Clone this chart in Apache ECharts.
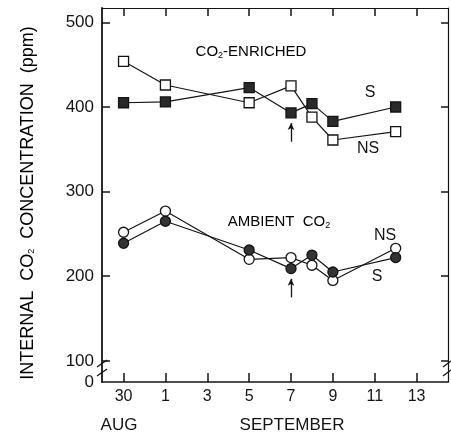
<!DOCTYPE html>
<html>
<head>
<meta charset="utf-8">
<script src="https://cdn.jsdelivr.net/npm/echarts@6/dist/echarts.min.js"></script>
<style>
html,body{margin:0;padding:0;background:#fff;}
#c{width:451px;height:436px;}
</style>
</head>
<body>
<div id="c"></div>
<script>
// ---- data ----
const dateLabels = ['Aug 30', 'Sep 1', 'Sep 5', 'Sep 7', 'Sep 8', 'Sep 9', 'Sep 12'];
const dayIndex = [0, 2, 6, 8, 9, 10, 13]; // days since Aug 30
const enrichedNS = [454, 426, 405, 425, 388, 361, 371];
const enrichedS = [405, 406, 423, 393, 404, 383, 400];
const ambientNS = [252, 277, 220, 222, 213, 195, 233];
const ambientS = [239, 265, 231, 209, 225, 205, 222];
const xTickValues = [0, 2, 4, 6, 8, 10, 12, 14];
const xTickLabels = ['30', '1', '3', '5', '7', '9', '11', '13'];
const yTickValues = [0, 100, 200, 300, 400, 500];
const arrowDay = 8;
const arrowEnriched = [359, 381];
const arrowAmbient = [175, 197];

// ---- chart ----
const FONT = '"Liberation Sans", Arial, sans-serif';
const INK = '#141414';
const yBottom = 75;   // broken axis: value shown as "0"
const yTop = 517;
const xMin = -1.03, xMax = 15.5;

const pairs = (ys) => dayIndex.map((d, i) => [d, ys[i]]);
const yLabelValues = yTickValues.map(v => v === 0 ? yBottom : v);
const yTickMarks = yTickValues.filter(v => v !== 0);

function lineSeries(name, ys, symbol, fill, size) {
  return {
    name, type: 'line', data: pairs(ys), symbol, symbolSize: size,
    showAllSymbol: true,
    lineStyle: { color: INK, width: 1.2 },
    itemStyle: { color: fill, borderColor: INK, borderWidth: 1.3 },
    z: 3, silent: true, animation: false
  };
}

function arrow(lo, hi) {
  return [{ coord: [arrowDay, lo] }, { coord: [arrowDay, hi] }];
}

const sub = { fontSize: 9, fontFamily: FONT, color: INK, padding: [7, 0, 0, 0] };

const chart = echarts.init(document.getElementById('c'), null, { renderer: 'canvas' });
chart.setOption({
  backgroundColor: '#fff',
  animation: false,
  grid: { left: 102, right: 3, top: 8, bottom: 54, containLabel: false },
  xAxis: [
    {
      type: 'value', min: xMin, max: xMax, position: 'bottom',
      axisLine: { show: true, onZero: false, lineStyle: { color: INK, width: 1.5 } },
      axisTick: { show: true, inside: true, length: 9, customValues: xTickValues, lineStyle: { color: INK, width: 1.5 } },
      axisLabel: {
        show: true, customValues: xTickValues, margin: 7,
        formatter: v => xTickLabels[xTickValues.indexOf(v)],
        fontFamily: FONT, fontSize: 16, color: INK
      },
      splitLine: { show: false }
    },
    {
      type: 'value', min: xMin, max: xMax, position: 'top',
      axisLine: { show: true, onZero: false, lineStyle: { color: INK, width: 1.2 } },
      axisTick: { show: true, inside: true, length: 8, customValues: xTickValues, lineStyle: { color: INK, width: 1.5 } },
      axisLabel: { show: false },
      splitLine: { show: false }
    }
  ],
  yAxis: [
    {
      type: 'value', min: yBottom, max: yTop, position: 'left',
      axisLine: { show: true, onZero: false, lineStyle: { color: INK, width: 1.8 } },
      axisTick: { show: true, inside: true, length: 8, customValues: yTickMarks, lineStyle: { color: INK, width: 1.5 } },
      axisLabel: {
        show: true, customValues: yLabelValues, margin: 8,
        formatter: v => v === yBottom ? '0' : String(v),
        fontFamily: FONT, fontSize: 17, color: INK
      },
      splitLine: { show: false }
    },
    {
      type: 'value', min: yBottom, max: yTop, position: 'right',
      axisLine: { show: true, onZero: false, lineStyle: { color: INK, width: 1.2 } },
      axisTick: { show: true, inside: true, length: 7, customValues: yTickMarks, lineStyle: { color: INK, width: 1.5 } },
      axisLabel: { show: false },
      splitLine: { show: false }
    }
  ],
  series: [
    Object.assign(lineSeries('Enriched NS', enrichedNS, 'rect', '#fff', 10), {
      markLine: {
        silent: true, symbol: ['none', 'arrow'], symbolSize: [5, 7],
        label: { show: false },
        lineStyle: { color: INK, width: 1.3, type: 'solid' },
        data: [arrow(arrowEnriched[0], arrowEnriched[1]), arrow(arrowAmbient[0], arrowAmbient[1])]
      }
    }),
    lineSeries('Enriched S', enrichedS, 'rect', '#2a2a2a', 10),
    lineSeries('Ambient NS', ambientNS, 'circle', '#fff', 10),
    lineSeries('Ambient S', ambientS, 'circle', '#333', 10)
  ],
  graphic: [
    {
      type: 'text', x: 28, y: 203, rotation: Math.PI / 2,
      style: {
        text: '{a|INTERNAL  CO}{s|2}{a|  CONCENTRATION  (ppm)}',
        align: 'center', verticalAlign: 'middle',
        rich: { a: { fontSize: 18, fontFamily: FONT, color: INK }, s: sub }
      }
    },
    {
      type: 'text', x: 251, y: 52,
      style: {
        text: '{a|CO}{s|2}{a|-ENRICHED}', align: 'center', verticalAlign: 'middle',
        rich: { a: { fontSize: 15, fontFamily: FONT, color: INK }, s: sub }
      }
    },
    {
      type: 'text', x: 279, y: 222,
      style: {
        text: '{a|AMBIENT  CO}{s|2}', align: 'center', verticalAlign: 'middle',
        rich: { a: { fontSize: 15, fontFamily: FONT, color: INK }, s: sub }
      }
    },
    { type: 'text', x: 370, y: 93, style: { text: 'S', align: 'center', verticalAlign: 'middle', fontSize: 16, fontFamily: FONT, fill: INK } },
    { type: 'text', x: 368, y: 149, style: { text: 'NS', align: 'center', verticalAlign: 'middle', fontSize: 16, fontFamily: FONT, fill: INK } },
    { type: 'text', x: 385, y: 236, style: { text: 'NS', align: 'center', verticalAlign: 'middle', fontSize: 16, fontFamily: FONT, fill: INK } },
    { type: 'text', x: 377, y: 277, style: { text: 'S', align: 'center', verticalAlign: 'middle', fontSize: 16, fontFamily: FONT, fill: INK } },
    { type: 'text', x: 119, y: 425, style: { text: 'AUG', align: 'center', verticalAlign: 'middle', fontSize: 17, fontFamily: FONT, fill: INK } },
    { type: 'text', x: 292, y: 425, style: { text: 'SEPTEMBER', align: 'center', verticalAlign: 'middle', fontSize: 17, fontFamily: FONT, fill: INK } },
    // axis break marks
    { type: 'line', shape: { x1: 97, y1: 367, x2: 107, y2: 360 }, style: { stroke: INK, lineWidth: 1.3 } },
    { type: 'line', shape: { x1: 97, y1: 376, x2: 107, y2: 369 }, style: { stroke: INK, lineWidth: 1.3 } },
    { type: 'line', shape: { x1: 443, y1: 367, x2: 451, y2: 361 }, style: { stroke: INK, lineWidth: 1.3 } },
    { type: 'line', shape: { x1: 443, y1: 376, x2: 451, y2: 370 }, style: { stroke: INK, lineWidth: 1.3 } }
  ]
});
</script>
</body>
</html>
